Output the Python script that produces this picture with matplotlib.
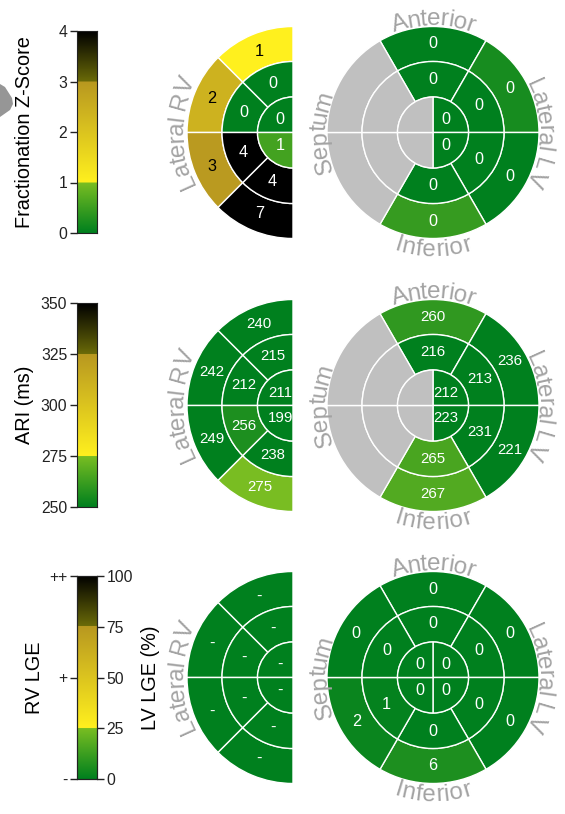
import numpy as np
import matplotlib
matplotlib.use('Agg')
import matplotlib.pyplot as plt
from matplotlib.patches import Wedge, Polygon
from matplotlib.colors import LinearSegmentedColormap, Normalize
from matplotlib.font_manager import FontProperties, findfont, get_font

plt.rcParams['font.family'] = ['Liberation Sans', 'DejaVu Sans']

W, H, DPI = 565, 814, 100
nan = np.nan

# ring order (LV): anterior, anterolateral, inferolateral, inferior, inferoseptal, anteroseptal
# apex (LV): upper-right, lower-right, lower-left, upper-left quadrant
# ring order (RV): anterior, anterolateral, inferolateral, inferior; apex (RV): upper, lower

# fractionation z-score
frac_rv_outer = [1.0, 2.4, 2.95, 7.0]
frac_rv_mid = [0, 0, 4, 4]
frac_rv_apex = [0, 0.55]
frac_lv_outer = [0, 0.2, 0, 0.45, nan, nan]
frac_lv_mid = [0, 0, 0, 0, nan, nan]
frac_lv_apex = [0, 0, nan, nan]

# activation recovery interval (ms)
ari_rv_outer = [240, 242, 249, 274.8]
ari_rv_mid = [215, 212, 256, 238]
ari_rv_apex = [211, 199]
ari_lv_outer = [260, 236, 221, 267, nan, nan]
ari_lv_mid = [216, 213, 231, 265, nan, nan]
ari_lv_apex = [212, 223, nan, nan]

# late gadolinium enhancement
lge_rv_outer = ['-', '-', '-', '-']
lge_rv_mid = ['-', '-', '-', '-']
lge_rv_apex = ['-', '-']
lge_lv_outer = [0, 0, 0, 6, 2, 0]
lge_lv_mid = [0, 0, 0, 0, 1, 0]
lge_lv_apex = [0, 0, 0, 0]
lge_grades = {'-': 0, '+': 50, '++': 100}

frac_ticks = [0, 1, 2, 3, 4]
ari_ticks = [250, 275, 300, 325, 350]
lge_ticks = [0, 25, 50, 75, 100]
lge_grade_ticks = [0, 50, 100]
lge_grade_labels = ['-', '+', '++']

LV_RING = [(60, 120), (0, 60), (-60, 0), (240, 300), (180, 240), (120, 180)]
LV_APEX = [(0, 90), (-90, 0), (180, 270), (90, 180)]
RV_RING = [(90, 135), (135, 180), (180, 225), (225, 270)]
RV_APEX = [(90, 180), (180, 270)]
R_OUT, R_MID, R_IN = 106, 71, 35.5

GREY_TXT = '#a3a3a3'
SEPTUM = '#c0c0c0'
LABEL_FS = 17.5


def make_cmap():
    stops = [(0.0, '#00801e', '#00801e'), (0.25, '#7abe22', '#fff01e'),
             (0.75, '#b89820', '#6b6b08'), (1.0, '#000000', '#000000')]
    cdict = {}
    for i, ch in enumerate(['red', 'green', 'blue']):
        rows = []
        for x, c0, c1 in stops:
            a = matplotlib.colors.to_rgb(c0)[i]
            b = matplotlib.colors.to_rgb(c1)[i]
            rows.append((x, a, b))
        cdict[ch] = rows
    return LinearSegmentedColormap('frac', cdict, N=256)


cmap = make_cmap()


def arc_text(ax, s, r, center, fontsize, clockwise=True, color=GREY_TXT):
    fp = FontProperties(family='Liberation Sans', size=fontsize)
    font = get_font(findfont(fp))
    font.set_size(fontsize, 72)
    px = DPI / 72
    widths = []
    for ch in s:
        g = font.load_char(ord(ch))
        widths.append(g.linearHoriAdvance / 65536 * px)
    total = sum(widths)
    span = total / r
    cap = 0.72 * fontsize * px
    c = np.radians(center)
    cum = 0
    for ch, w in zip(s, widths):
        if clockwise:
            th = c + span / 2 - (cum + w / 2) / r
            rb = r - cap / 2
            rot = np.degrees(th) - 90
        else:
            th = c - span / 2 + (cum + w / 2) / r
            rb = r + cap / 2
            rot = np.degrees(th) + 90
        cum += w
        if ch == ' ':
            continue
        ax.text(rb * np.cos(th), rb * np.sin(th), ch, rotation=rot,
                rotation_mode='anchor', ha='center', va='baseline',
                fontsize=fontsize, color=color)


def draw_ring(ax, angles, vals, norm, r0, r1, label_r, clip=False):
    for (t1, t2), v in zip(angles, vals):
        if isinstance(v, str):
            label, v = v, lge_grades[v]
        else:
            label = None if np.isnan(v) else f'{v:.0f}'
        if label is None:
            fc = SEPTUM
        else:
            fc = cmap(norm(v))
        width = None if r0 == 0 else r1 - r0
        ax.add_patch(Wedge((0, 0), r1, t1, t2, width=width, facecolor=fc,
                           edgecolor='white', lw=1.0))
        if label is None:
            continue
        nv = norm(v)
        tc = 'black' if 0.25 <= nv < 0.75 else 'white'
        fs = 10.8 if len(label) > 2 else 11.7
        mid = np.radians((t1 + t2) / 2)
        ax.text(label_r * np.cos(mid), label_r * np.sin(mid), label,
                ha='center', va='center', fontsize=fs, color=tc, clip_on=clip)


def rv_axes(cy):
    ax = fig.add_axes([(293 - 140) / W, 1 - (cy + 140) / H, 140 / W, 280 / H])
    ax.set_xlim(-140, 0)
    ax.set_ylim(-140, 140)
    ax.axis('off')
    return ax


def lv_axes(cy):
    ax = fig.add_axes([(433 - 135) / W, 1 - (cy + 135) / H, 270 / W, 270 / H])
    ax.set_xlim(-135, 135)
    ax.set_ylim(-135, 135)
    ax.axis('off')
    return ax


def draw_rv(cy, outer, mid, apex, norm):
    ax = rv_axes(cy)
    draw_ring(ax, RV_RING, outer, norm, R_MID, R_OUT, 88, clip=True)
    draw_ring(ax, RV_RING, mid, norm, R_IN, R_MID, 53.5, clip=True)
    draw_ring(ax, RV_APEX, apex, norm, 0, R_IN, 18, clip=True)
    arc_text(ax, 'Lateral RV', 119, 180, LABEL_FS)


def draw_lv(cy, outer, mid, apex, norm):
    ax = lv_axes(cy)
    draw_ring(ax, LV_RING, outer, norm, R_MID, R_OUT, 88.5)
    draw_ring(ax, LV_RING, mid, norm, R_IN, R_MID, 53.5)
    draw_ring(ax, LV_APEX, apex, norm, 0, R_IN, 18)
    arc_text(ax, 'Anterior', 116, 90, LABEL_FS)
    arc_text(ax, 'Lateral LV', 114, 0, LABEL_FS)
    arc_text(ax, 'Septum', 116, 180, LABEL_FS)
    arc_text(ax, 'Inferior', 115, 270, LABEL_FS, clockwise=False)


def colorbar(top, bottom, vmin, vmax, ticks):
    ax = fig.add_axes([77 / W, 1 - bottom / H, 20 / W, (bottom - top) / H])
    grad = np.linspace(vmin, vmax, 256).reshape(-1, 1)
    ax.imshow(grad, cmap=cmap, norm=Normalize(vmin, vmax), origin='lower',
              extent=[0, 1, vmin, vmax], aspect='auto')
    ax.set_xticks([])
    ax.set_yticks(ticks)
    ax.tick_params(axis='y', length=5, width=1, labelsize=11.3, pad=2,
                   colors='#222222')
    for sp in ax.spines.values():
        sp.set_linewidth(0.8)
        sp.set_color('#222222')
    return ax


fig = plt.figure(figsize=(W / DPI, H / DPI), dpi=DPI)

# partial grey shape at the left edge
bg = fig.add_axes([0, 0, 1, 1])
bg.set_xlim(0, W)
bg.set_ylim(H, 0)
bg.axis('off')
bg.add_patch(Polygon([(0, 84), (5, 87), (12, 98), (13, 104), (10, 110), (0, 117)],
                     closed=True, facecolor='#969696', edgecolor='none'))

# row 1: fractionation
norm_frac = Normalize(0, 4)
colorbar(31, 233, 0, 4, frac_ticks)
fig.text(25 / W, 1 - 132 / H, 'Fractionation Z-Score', rotation=90,
         ha='center', va='center', fontsize=14.3)
draw_rv(132.5, frac_rv_outer, frac_rv_mid, frac_rv_apex, norm_frac)
draw_lv(132.5, frac_lv_outer, frac_lv_mid, frac_lv_apex, norm_frac)

# row 2: ARI
norm_ari = Normalize(250, 350)
colorbar(303, 507, 250, 350, ari_ticks)
fig.text(25 / W, 1 - 405 / H, 'ARI (ms)', rotation=90,
         ha='center', va='center', fontsize=14.3)
draw_rv(405.5, ari_rv_outer, ari_rv_mid, ari_rv_apex, norm_ari)
draw_lv(405.5, ari_lv_outer, ari_lv_mid, ari_lv_apex, norm_ari)

# row 3: LGE
norm_lge = Normalize(0, 100)
cb = colorbar(576, 779, 0, 100, lge_grade_ticks)
cb.set_yticklabels(lge_grade_labels)
cb2 = cb.twinx()
cb2.set_ylim(0, 100)
cb2.set_yticks(lge_ticks)
cb2.tick_params(axis='y', length=5, width=1, labelsize=11.3, pad=2,
                colors='#222222')
for sp in cb2.spines.values():
    sp.set_linewidth(0.8)
    sp.set_color('#222222')
fig.text(35 / W, 1 - 678 / H, 'RV LGE', rotation=90,
         ha='center', va='center', fontsize=14.3)
fig.text(150 / W, 1 - 678 / H, 'LV LGE (%)', rotation=90,
         ha='center', va='center', fontsize=14.3)
draw_rv(677.5, lge_rv_outer, lge_rv_mid, lge_rv_apex, norm_lge)
draw_lv(677.5, lge_lv_outer, lge_lv_mid, lge_lv_apex, norm_lge)

fig.savefig('out.png', dpi=DPI)
